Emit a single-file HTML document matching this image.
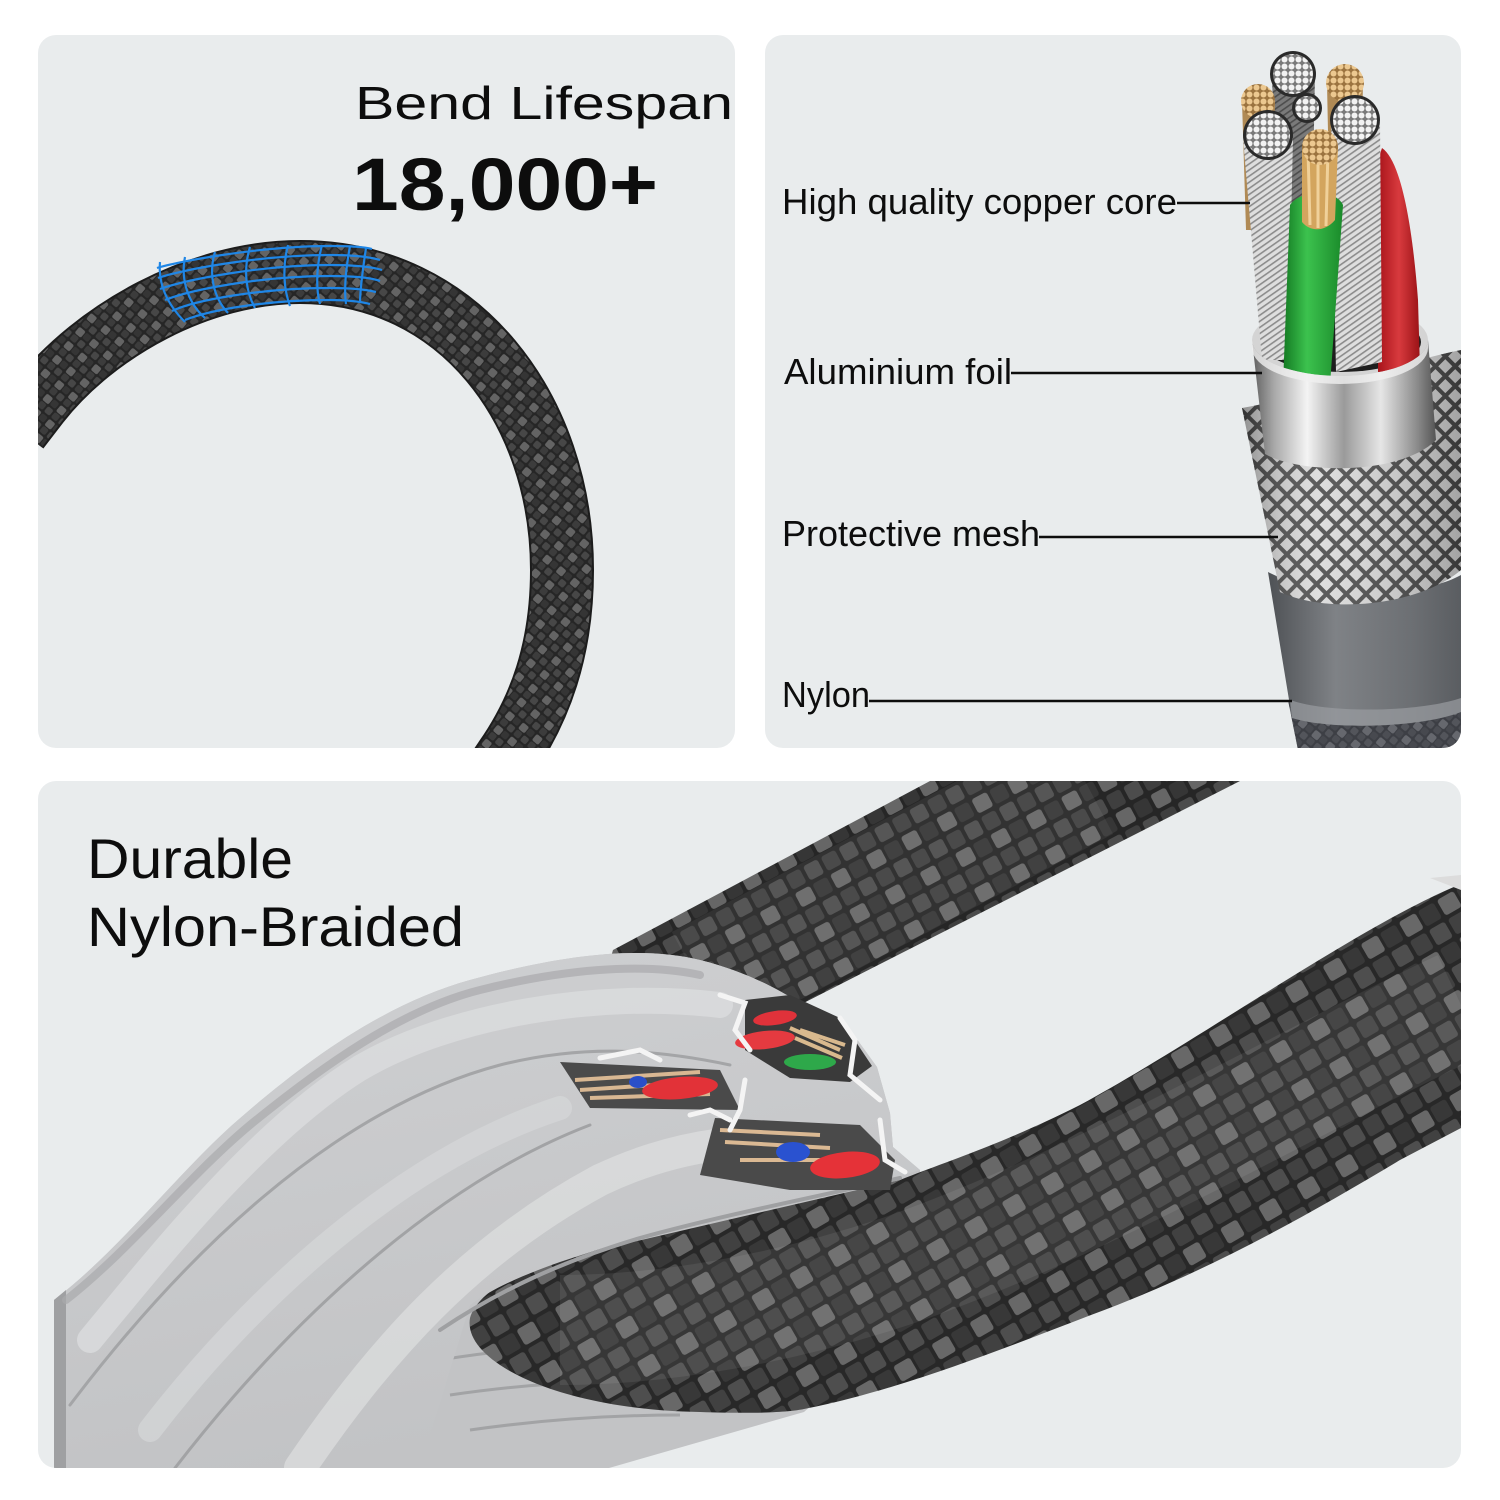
<!DOCTYPE html>
<html><head><meta charset="utf-8">
<style>
html,body{margin:0;padding:0;background:#ffffff;}
svg{display:block;}
text{font-family:"Liberation Sans",sans-serif;fill:#0d0d0d;}
</style></head><body>
<svg width="1500" height="1500" viewBox="0 0 1500 1500" xmlns="http://www.w3.org/2000/svg">
<defs>
 <pattern id="br1" width="18" height="18" patternUnits="userSpaceOnUse" patternTransform="rotate(40)">
  <rect width="18" height="18" fill="#262626"/>
  <rect x="1" y="1" width="8" height="8" rx="2" fill="#646464"/>
  <rect x="10" y="10" width="7" height="7" rx="2" fill="#474747"/>
  <rect x="10" y="1" width="7" height="7" rx="2" fill="#353535"/>
  <rect x="1" y="10" width="7" height="7" rx="2" fill="#3c3c3c"/>
 </pattern>
 <pattern id="br3" width="40" height="40" patternUnits="userSpaceOnUse" patternTransform="rotate(-28)">
  <rect width="40" height="40" fill="#262626"/>
  <rect x="2" y="2" width="17" height="16" rx="3" fill="#666"/>
  <rect x="22" y="22" width="16" height="16" rx="3" fill="#4c4c4c"/>
  <rect x="22" y="2" width="16" height="16" rx="3" fill="#363636"/>
  <rect x="2" y="22" width="16" height="16" rx="3" fill="#3f3f3f"/>
 </pattern>
 <pattern id="br4" width="44" height="44" patternUnits="userSpaceOnUse" patternTransform="rotate(-30)">
  <rect width="44" height="44" fill="#282828"/>
  <rect x="2" y="2" width="19" height="18" rx="3" fill="#686868"/>
  <rect x="24" y="24" width="18" height="18" rx="3" fill="#4e4e4e"/>
  <rect x="24" y="2" width="18" height="18" rx="3" fill="#383838"/>
  <rect x="2" y="24" width="18" height="18" rx="3" fill="#414141"/>
 </pattern>
 <pattern id="mesh" width="14" height="14" patternUnits="userSpaceOnUse" patternTransform="rotate(45)">
  <rect width="14" height="14" fill="#4a4a4a"/>
  <rect x="2" y="2" width="10" height="10" fill="#dadada"/>
 </pattern>
 <pattern id="wire" width="5" height="5" patternUnits="userSpaceOnUse" patternTransform="rotate(-35)">
  <rect width="5" height="5" fill="#dedede"/>
  <rect width="5" height="1.6" fill="#8c8c8c"/>
 </pattern>
 <pattern id="dots" width="7" height="7" patternUnits="userSpaceOnUse">
  <rect width="7" height="7" fill="#7a7a7a"/>
  <circle cx="3.5" cy="3.5" r="3" fill="#f2f2f2"/>
 </pattern>
 <pattern id="cdots" width="7" height="7" patternUnits="userSpaceOnUse">
  <rect width="7" height="7" fill="#9c7440"/>
  <circle cx="3.5" cy="3.5" r="3" fill="#ecc890"/>
 </pattern>
 <linearGradient id="alu" x1="0" y1="0" x2="1" y2="0">
  <stop offset="0" stop-color="#5e5e5e"/>
  <stop offset="0.12" stop-color="#a8a8a8"/>
  <stop offset="0.3" stop-color="#f4f4f4"/>
  <stop offset="0.5" stop-color="#9a9a9a"/>
  <stop offset="0.7" stop-color="#e6e6e6"/>
  <stop offset="0.9" stop-color="#8a8a8a"/>
  <stop offset="1" stop-color="#555"/>
 </linearGradient>
 <linearGradient id="nyl" x1="0" y1="0" x2="1" y2="0">
  <stop offset="0" stop-color="#4e5155"/>
  <stop offset="0.35" stop-color="#7f8286"/>
  <stop offset="0.75" stop-color="#6c6f73"/>
  <stop offset="1" stop-color="#5a5d61"/>
 </linearGradient>
 <linearGradient id="grn" x1="0" y1="0" x2="1" y2="0">
  <stop offset="0" stop-color="#137a22"/>
  <stop offset="0.4" stop-color="#3cc24e"/>
  <stop offset="1" stop-color="#1a8a2a"/>
 </linearGradient>
 <linearGradient id="red" x1="0" y1="0" x2="1" y2="0">
  <stop offset="0" stop-color="#a8141a"/>
  <stop offset="0.5" stop-color="#d83a3e"/>
  <stop offset="1" stop-color="#9a1216"/>
 </linearGradient>
 <linearGradient id="meshshade" x1="0" y1="0" x2="1" y2="0">
  <stop offset="0" stop-color="#000" stop-opacity="0.35"/>
  <stop offset="0.35" stop-color="#fff" stop-opacity="0.1"/>
  <stop offset="1" stop-color="#000" stop-opacity="0.25"/>
 </linearGradient>
 <linearGradient id="grayfront" x1="0" y1="0" x2="0.3" y2="1">
  <stop offset="0" stop-color="#cfd0d2"/>
  <stop offset="1" stop-color="#c2c3c5"/>
 </linearGradient>
 <clipPath id="c1"><rect x="38" y="35" width="697" height="713" rx="18"/></clipPath>
 <clipPath id="c2"><rect x="765" y="35" width="696" height="713" rx="18"/></clipPath>
 <clipPath id="c3"><rect x="38" y="781" width="1423" height="687" rx="18"/></clipPath>
</defs>

<!-- Panels -->
<rect x="38" y="35" width="697" height="713" rx="18" fill="#e9eced"/>
<rect x="765" y="35" width="696" height="713" rx="18" fill="#e9eced"/>
<rect x="38" y="781" width="1423" height="687" rx="18" fill="#e9eced"/>

<!-- Panel 1 ring -->
<g clip-path="url(#c1)">
 <path d="M18,429 L38,403 C95,330 200,272 300,272 C460,272 562,410 562,570 C562,650 540,710 505,760 L495,775" fill="none" stroke="#1c1c1c" stroke-width="64"/>
 <path d="M18,429 L38,403 C95,330 200,272 300,272 C460,272 562,410 562,570 C562,650 540,710 505,760 L495,775" fill="none" stroke="url(#br1)" stroke-width="60"/>
 <!-- blue mesh -->
 <g fill="none" stroke="#1f86e6" stroke-width="2.2">
  <path d="M157,268 C175,262 260,246 330,246 C350,246 365,247 372,249"/>
  <path d="M158,278 C180,270 260,255 330,255 C355,255 370,257 380,260"/>
  <path d="M160,289 C185,280 260,265 330,265 C355,265 372,267 382,270"/>
  <path d="M165,300 C190,290 260,276 330,276 C355,276 372,278 380,281"/>
  <path d="M172,311 C195,300 262,288 330,288 C352,288 368,290 376,292"/>
  <path d="M185,320 C210,310 265,300 330,300 C350,300 362,302 370,304"/>
  <path d="M160,262 C158,285 168,305 185,322"/>
  <path d="M185,257 C180,282 190,305 205,318"/>
  <path d="M215,252 C208,275 214,298 228,313"/>
  <path d="M250,247 C243,270 246,292 255,308"/>
  <path d="M288,245 C282,268 284,290 290,306"/>
  <path d="M322,245 C316,268 316,290 320,304"/>
  <path d="M350,246 C346,268 344,290 346,304"/>
  <path d="M366,248 C363,268 360,290 360,303"/>
 </g>
</g>
<text x="355" y="119" font-size="46" textLength="378" lengthAdjust="spacingAndGlyphs">Bend Lifespan</text>
<text x="352" y="210" font-size="74" font-weight="bold" textLength="306" lengthAdjust="spacingAndGlyphs">18,000+</text>

<!-- Panel 2 cable -->
<g clip-path="url(#c2)">
 <path d="M1288,700 L1461,690 L1461,760 L1300,760 Z" fill="url(#br1)"/>
 <path d="M1288,700 L1461,690 L1461,760 L1300,760 Z" fill="#6a7080" opacity="0.35"/>
 <path d="M1268,572 C1320,600 1420,598 1461,575 L1461,712 C1420,728 1330,730 1292,718 Z" fill="url(#nyl)"/>
 <path d="M1290,700 C1330,714 1420,712 1461,698 L1461,712 C1420,728 1330,730 1292,718 Z" fill="#9a9da1" opacity="0.7"/>
 <path d="M1242,408 C1300,398 1400,362 1461,350 L1461,570 C1420,605 1330,615 1280,592 Z" fill="url(#mesh)"/>
 <path d="M1242,408 C1300,398 1400,362 1461,350 L1461,570 C1420,605 1330,615 1280,592 Z" fill="url(#meshshade)"/>
 <ellipse cx="1340" cy="340" rx="88" ry="36" fill="#d4d4d4"/>
 <ellipse cx="1341" cy="342" rx="80" ry="30" fill="#1e1e1e"/>
 <path d="M1272,74 L1315,74 L1312,230 L1276,230 Z" fill="url(#wire)"/>
 <path d="M1272,74 L1315,74 L1312,230 L1276,230 Z" fill="#000" opacity="0.45"/>
 <path d="M1242,101 L1275,101 L1272,230 L1246,230 Z" fill="#b08a55"/>
 <path d="M1327,83 L1363,83 L1360,230 L1330,230 Z" fill="#b08a55"/>
 <circle cx="1293" cy="74" r="23" fill="#2a2a2a"/>
 <circle cx="1293" cy="74" r="20" fill="url(#dots)"/>
 <circle cx="1258" cy="101" r="17" fill="url(#cdots)"/>
 <circle cx="1345" cy="83" r="19" fill="url(#cdots)"/>
 <circle cx="1307" cy="108" r="15" fill="#2a2a2a"/>
 <circle cx="1307" cy="108" r="12" fill="url(#dots)"/>
 <path d="M1382,148 C1400,160 1412,220 1418,300 L1420,370 L1378,372 L1378,160 Z" fill="url(#red)"/>
 <path d="M1331,122 L1380,122 L1382,362 L1336,372 Z" fill="url(#wire)"/>
 <circle cx="1355" cy="120" r="25" fill="#2a2a2a"/>
 <circle cx="1355" cy="120" r="22" fill="url(#dots)"/>
 <path d="M1243,138 L1293,138 L1288,360 L1262,360 Z" fill="url(#wire)"/>
 <circle cx="1268" cy="135" r="25" fill="#2a2a2a"/>
 <circle cx="1268" cy="135" r="22" fill="url(#dots)"/>
 <path d="M1290,205 C1300,190 1335,188 1343,205 L1330,385 L1283,385 Z" fill="url(#grn)"/>
 <path d="M1302,147 L1338,147 L1335,220 C1325,232 1310,232 1302,222 Z" fill="#d3a55e"/>
 <path d="M1308,150 L1310,225 M1318,150 L1318,228 M1328,150 L1326,226" stroke="#f0d19a" stroke-width="3"/>
 <circle cx="1320" cy="147" r="18" fill="url(#cdots)"/>
 <path d="M1252,340 A88,36 0 0 0 1428,340 L1436,440 C1400,476 1300,474 1265,454 Z" fill="url(#alu)"/>
 <path d="M1252,340 A88,36 0 0 0 1428,340 L1428,348 A88,36 0 0 1 1252,348 Z" fill="#f0f0f0" opacity="0.8"/>
</g>
<g stroke="#0d0d0d" stroke-width="2.5">
 <line x1="1177" y1="203" x2="1250" y2="203"/>
 <line x1="1011" y1="373" x2="1262" y2="373"/>
 <line x1="1039" y1="537" x2="1278" y2="537"/>
 <line x1="869" y1="701" x2="1292" y2="701"/>
</g>
<text x="782" y="214" font-size="36" textLength="395" lengthAdjust="spacingAndGlyphs">High quality copper core</text>
<text x="784" y="384" font-size="36" textLength="228" lengthAdjust="spacingAndGlyphs">Aluminium foil</text>
<text x="782" y="546" font-size="36" textLength="258" lengthAdjust="spacingAndGlyphs">Protective mesh</text>
<text x="782" y="707" font-size="36" textLength="88" lengthAdjust="spacingAndGlyphs">Nylon</text>

<!-- Panel 3 -->
<g clip-path="url(#c3)">
 <path d="M930,781 L1240,781 L780,1015 L600,995 L613,950 Z" fill="url(#br3)"/>
 <path d="M1085,781 L700,985" stroke="#fff" stroke-opacity="0.06" stroke-width="120"/>
 <path d="M54,1300 C120,1250 180,1170 238,1120 C300,1066 380,1005 470,980 C560,955 640,945 700,960 C740,970 770,985 790,997 L843,1020 L877,1067 L890,1113 L893,1147 L920,1170 L930,1300 L804,1412 L609,1468 L54,1468 Z" fill="#c2c3c5"/>
 <g fill="none" stroke="#a2a3a5" stroke-width="3">
  <path d="M440,1360 C500,1350 560,1345 600,1350"/>
  <path d="M450,1395 C520,1385 580,1380 640,1385"/>
  <path d="M470,1430 C540,1420 610,1415 680,1415"/>
 </g>
 <path d="M1461,884 C1360,925 1200,1040 1080,1105 C1000,1145 950,1160 900,1180 L620,1245 C560,1252 480,1282 470,1318 C462,1362 560,1410 700,1412 C760,1414 790,1412 804,1409 C900,1390 1000,1350 1091,1315 C1200,1275 1300,1220 1400,1160 L1461,1128 Z" fill="url(#br4)"/>
 <path d="M1461,1005 C1300,1080 1100,1200 900,1270 C780,1310 660,1330 560,1330" fill="none" stroke="#fff" stroke-opacity="0.07" stroke-width="110"/>
 <path d="M1461,875 L1430,878 L1461,890 Z" fill="#dcdcdc"/>
 <path d="M54,1300 C120,1250 180,1170 238,1120 C300,1066 380,1005 470,980 C560,955 640,945 700,960 C740,970 770,985 790,997 L843,1020 L877,1067 L890,1113 L893,1147 L920,1170 C870,1185 830,1195 790,1202 C720,1215 640,1235 560,1262 C520,1276 490,1290 470,1305 L420,1468 L54,1468 Z" fill="url(#grayfront)"/>
 <path d="M54,1300 L54,1468 L66,1468 L66,1290 Z" fill="#9fa0a2"/>
 <g fill="none" stroke-linecap="round">
  <path d="M66,1300 C130,1250 190,1175 250,1125 C320,1068 400,1010 480,990 C560,970 640,962 700,975" stroke="#a9aaac" stroke-width="8" opacity="0.7"/>
  <path d="M90,1340 C160,1255 260,1130 360,1068 C450,1015 600,990 720,1005" stroke="#dcdddf" stroke-width="26" opacity="0.75"/>
  <path d="M70,1405 C180,1260 330,1110 500,1065 C580,1045 650,1048 730,1065" stroke="#a4a5a7" stroke-width="3"/>
  <path d="M150,1430 C250,1300 400,1160 560,1108" stroke="#d6d7d9" stroke-width="24" opacity="0.7"/>
  <path d="M175,1468 C270,1345 420,1190 590,1125" stroke="#a2a3a5" stroke-width="3"/>
  <path d="M300,1468 C380,1350 470,1250 600,1180 C680,1142 760,1135 830,1145" stroke="#dedfe0" stroke-width="32" opacity="0.7"/>
  <path d="M440,1330 C500,1290 560,1262 640,1238 C720,1216 800,1200 900,1178" stroke="#9fa0a2" stroke-width="4"/>
 </g>
 <path d="M745,1000 L790,995 L840,1018 L872,1066 L850,1082 L790,1078 L745,1050 Z" fill="#3a3a3a"/>
 <ellipse cx="775" cy="1018" rx="22" ry="7" fill="#e0323a" transform="rotate(-8 775 1018)"/>
 <ellipse cx="765" cy="1040" rx="30" ry="9" fill="#e53a40" transform="rotate(-6 765 1040)"/>
 <path d="M790,1028 L840,1050 M795,1038 L842,1058 M800,1030 L845,1045" stroke="#d9b98e" stroke-width="4"/>
 <ellipse cx="810" cy="1062" rx="26" ry="8" fill="#2ea84a"/>
 <path d="M560,1062 L720,1070 L740,1110 L590,1108 Z" fill="#4a4a4a"/>
 <path d="M575,1080 L700,1072 M580,1090 L700,1082 M590,1098 L710,1094" stroke="#d8b792" stroke-width="4"/>
 <ellipse cx="680" cy="1088" rx="38" ry="11" fill="#e23238" transform="rotate(-5 680 1088)"/>
 <ellipse cx="638" cy="1082" rx="9" ry="6" fill="#2a4fc8"/>
 <path d="M715,1118 L860,1125 L895,1160 L890,1190 L790,1190 L700,1175 Z" fill="#4a4a4a"/>
 <path d="M720,1130 L820,1135 M725,1142 L830,1148 M740,1160 L850,1160" stroke="#dbb993" stroke-width="4"/>
 <ellipse cx="793" cy="1152" rx="17" ry="10" fill="#2a52d0"/>
 <ellipse cx="845" cy="1165" rx="35" ry="13" fill="#e53238" transform="rotate(-6 845 1165)"/>
 <g fill="none" stroke="#f4f4f4" stroke-width="5" stroke-linecap="round">
  <path d="M720,995 L745,1003 L735,1030 L750,1050"/>
  <path d="M840,1018 L855,1040 L850,1075 L880,1100"/>
  <path d="M600,1058 L640,1050 L660,1060"/>
  <path d="M745,1080 L740,1110 L730,1130"/>
  <path d="M690,1115 L710,1110 L730,1120"/>
  <path d="M880,1120 L885,1160 L905,1172"/>
 </g>
</g>
<text x="87" y="878" font-size="56" textLength="206" lengthAdjust="spacingAndGlyphs">Durable</text>
<text x="87" y="946" font-size="56" textLength="377" lengthAdjust="spacingAndGlyphs">Nylon-Braided</text>
</svg>
</body></html>
